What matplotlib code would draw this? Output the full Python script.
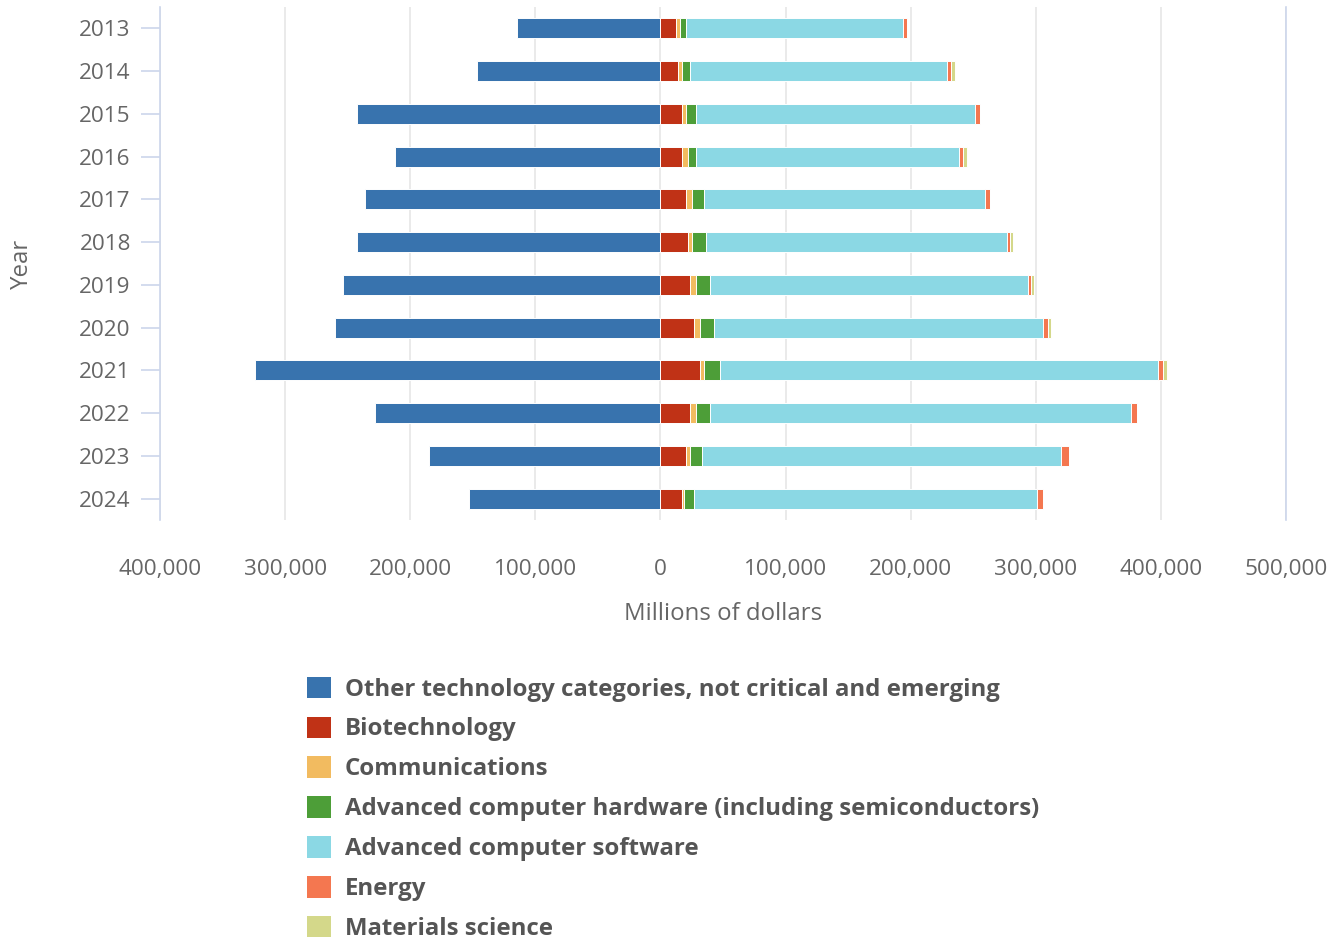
import numpy as np
import matplotlib.pyplot as plt
from matplotlib.patches import Patch
from matplotlib.ticker import FuncFormatter, MultipleLocator

years = ['2013', '2014', '2015', '2016', '2017', '2018',
         '2019', '2020', '2021', '2022', '2023', '2024']

# millions of dollars
other = [114400, 146400, 242400, 212000, 236000, 242400,
         253600, 260000, 324000, 228000, 184800, 152800]
biotech = [12800, 14400, 17600, 17600, 20800, 22400,
           24000, 27200, 32000, 24000, 20800, 17600]
comms = [3200, 3200, 3200, 4800, 4800, 3200,
         4800, 4800, 3200, 4800, 3200, 1600]
hardware = [4800, 6400, 8000, 6400, 9600, 11200,
            11200, 11200, 12800, 11200, 9600, 8000]
software = [172800, 204800, 222400, 209600, 224000, 240000,
            253600, 262400, 349600, 336000, 286400, 273600]
energy = [3200, 3200, 4000, 3200, 4000, 2400,
          2400, 4000, 4000, 4800, 6400, 4800]
materials = [0, 3200, 0, 3200, 0, 2400,
             2400, 2400, 3200, 0, 0, 0]

names = ['Other technology categories, not critical and emerging',
         'Biotechnology', 'Communications',
         'Advanced computer hardware (including semiconductors)',
         'Advanced computer software', 'Energy', 'Materials science']
colors = ['#3873ae', '#c03216', '#f2bb60', '#4d9e38',
          '#8bd8e4', '#f47750', '#d4d88a']

plt.rcParams['font.family'] = ['Open Sans', 'DejaVu Sans']

fig = plt.figure(figsize=(13.38, 9.41), dpi=100)
ax = fig.add_axes([160 / 1338, 1 - 520 / 941, 1126 / 1338, 513 / 941])

y = np.arange(len(years))
h = 0.47
ax.barh(y, -np.array(other), height=h, color=colors[0],
        edgecolor='white', linewidth=0.7, zorder=3)
left = np.zeros(len(years))
for vals, c in zip([biotech, comms, hardware, software, energy, materials],
                   colors[1:]):
    vals = np.array(vals)
    ax.barh(y, vals, left=left, height=h, color=c,
            edgecolor='white', linewidth=0.7, zorder=3)
    left += vals

ax.set_xlim(-400000, 500000)
ax.set_ylim(11.5, -0.5)
ax.set_yticks(y)
ax.set_yticklabels(years)
ax.xaxis.set_major_locator(MultipleLocator(100000))
ax.xaxis.set_major_formatter(FuncFormatter(lambda v, p: f'{abs(v):,.0f}'))
ax.grid(True, axis='x', color='#e6e6e6', linewidth=1.2, zorder=0)

for s in ['top', 'bottom']:
    ax.spines[s].set_visible(False)
for s in ['left', 'right']:
    ax.spines[s].set_color('#ccd6eb')
    ax.spines[s].set_linewidth(1.2)

ax.tick_params(axis='x', length=0, pad=28, labelsize=16.2, labelcolor='#666666')
ax.tick_params(axis='y', length=14, width=1.2, color='#ccd6eb', pad=7,
               labelsize=16.2, labelcolor='#666666')

ax.set_xlabel('Millions of dollars', fontsize=17.3, color='#666666', labelpad=16)
ax.set_ylabel('Year', fontsize=17.3, color='#666666')
ax.yaxis.set_label_coords(-0.112, 0.5)

handles = [Patch(facecolor=c, edgecolor='none') for c in colors]
leg = fig.legend(handles, names, loc='upper left',
                 bbox_to_anchor=(285 / 1338, 1 - 655 / 941),
                 frameon=False, fontsize=17.3, handlelength=1.0,
                 handleheight=1.0, handletextpad=0.58, labelspacing=0.62)
for t in leg.get_texts():
    t.set_fontweight('bold')
    t.set_color('#555555')

fig.savefig('out.png', dpi=100)
